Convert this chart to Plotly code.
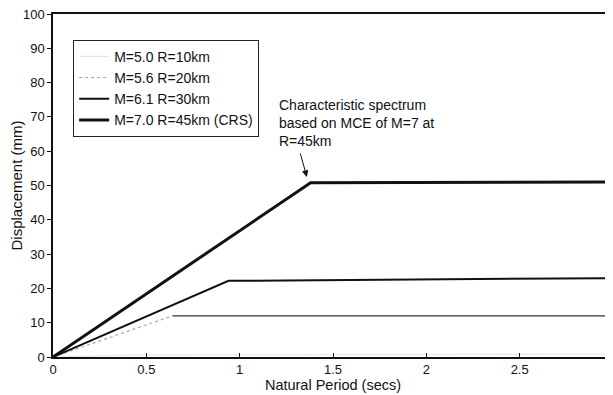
import plotly.graph_objects as go

# Data
names = ["M=5.0 R=10km", "M=5.6 R=20km", "M=6.1 R=30km", "M=7.0 R=45km (CRS)"]
periods = [
    [0.0, 0.45, 3.0],
    [0.0, 0.64, 3.0],
    [0.0, 0.94, 3.0],
    [0.0, 1.38, 3.0],
]
displacements = [
    [0.0, 0.6, 0.8],
    [0.0, 12.0, 12.0],
    [0.0, 22.2, 23.0],
    [0.0, 50.8, 51.0],
]
x_ticks = [0, 0.5, 1, 1.5, 2, 2.5, 3]
x_tick_labels = ["0", "0.5", "1", "1.5", "2", "2.5", "3"]
y_ticks = [0, 10, 20, 30, 40, 50, 60, 70, 80, 90, 100]

colors = ["#e6e6e6", "#a8a8a8", "#111111", "#111111"]
widths = [1.2, 1.2, 2.0, 3.0]

fig = go.Figure()
for i, name in enumerate(names):
    if i == 1:
        # rising part dotted grey, plateau solid dark
        fig.add_trace(go.Scatter(x=periods[i][:2], y=displacements[i][:2], mode="lines",
                                 name=name, line=dict(color=colors[i], width=widths[i], dash="dot")))
        fig.add_trace(go.Scatter(x=periods[i][1:], y=displacements[i][1:], mode="lines",
                                 name=name, showlegend=False,
                                 line=dict(color="#333333", width=1.4)))
    else:
        fig.add_trace(go.Scatter(x=periods[i], y=displacements[i], mode="lines",
                                 name=name, line=dict(color=colors[i], width=widths[i])))

font = "Liberation Sans, Arial, sans-serif"

fig.add_annotation(x=1.198, y=76.5, xref="x", yref="y", xanchor="left", yanchor="top",
                   align="left", showarrow=False,
                   text="Characteristic spectrum<br>based on MCE of M=7 at<br>R=45km",
                   font=dict(family=font, size=14, color="#111111"))
fig.add_annotation(x=1.36, y=52.5, xref="x", yref="y", ax=-7, ay=-25, showarrow=True,
                   arrowhead=2, arrowsize=1.3, arrowwidth=1, arrowcolor="#111111",
                   standoff=0, text="")

# The page body adds an 8px offset, so the figure is sized to fit the window.
fig.update_layout(
    width=605, height=387,
    margin=dict(l=45, r=0, t=6, b=38),
    paper_bgcolor="white", plot_bgcolor="white",
    font=dict(family=font, size=13, color="#111111"),
    showlegend=True,
    legend=dict(x=0.036, y=0.925, xanchor="left", yanchor="top",
                bordercolor="#222222", borderwidth=1, bgcolor="white",
                font=dict(family=font, size=14), tracegroupgap=0),
    xaxis=dict(range=[0, 3], tickvals=x_ticks, ticktext=x_tick_labels, automargin=False,
               ticklabeloverflow="allow",
               showgrid=False, zeroline=False, showline=True, linecolor="#111111",
               linewidth=1.5, mirror=True, ticks="inside", ticklen=4, tickcolor="#111111",
               tickfont=dict(size=13),
               title=dict(text="Natural Period (secs)", standoff=0,
                          font=dict(family=font, size=14.5))),
    yaxis=dict(range=[0, 100], tickvals=y_ticks, showgrid=False, zeroline=False,
               automargin=False, ticklabeloverflow="allow",
               showline=True, linecolor="#111111", linewidth=1.5, ticks="outside",
               ticklen=4, tickcolor="#111111", tickfont=dict(size=13),
               title=dict(text="Displacement (mm)", standoff=0,
                          font=dict(family=font, size=15))),
)

fig.write_html("out.html")
